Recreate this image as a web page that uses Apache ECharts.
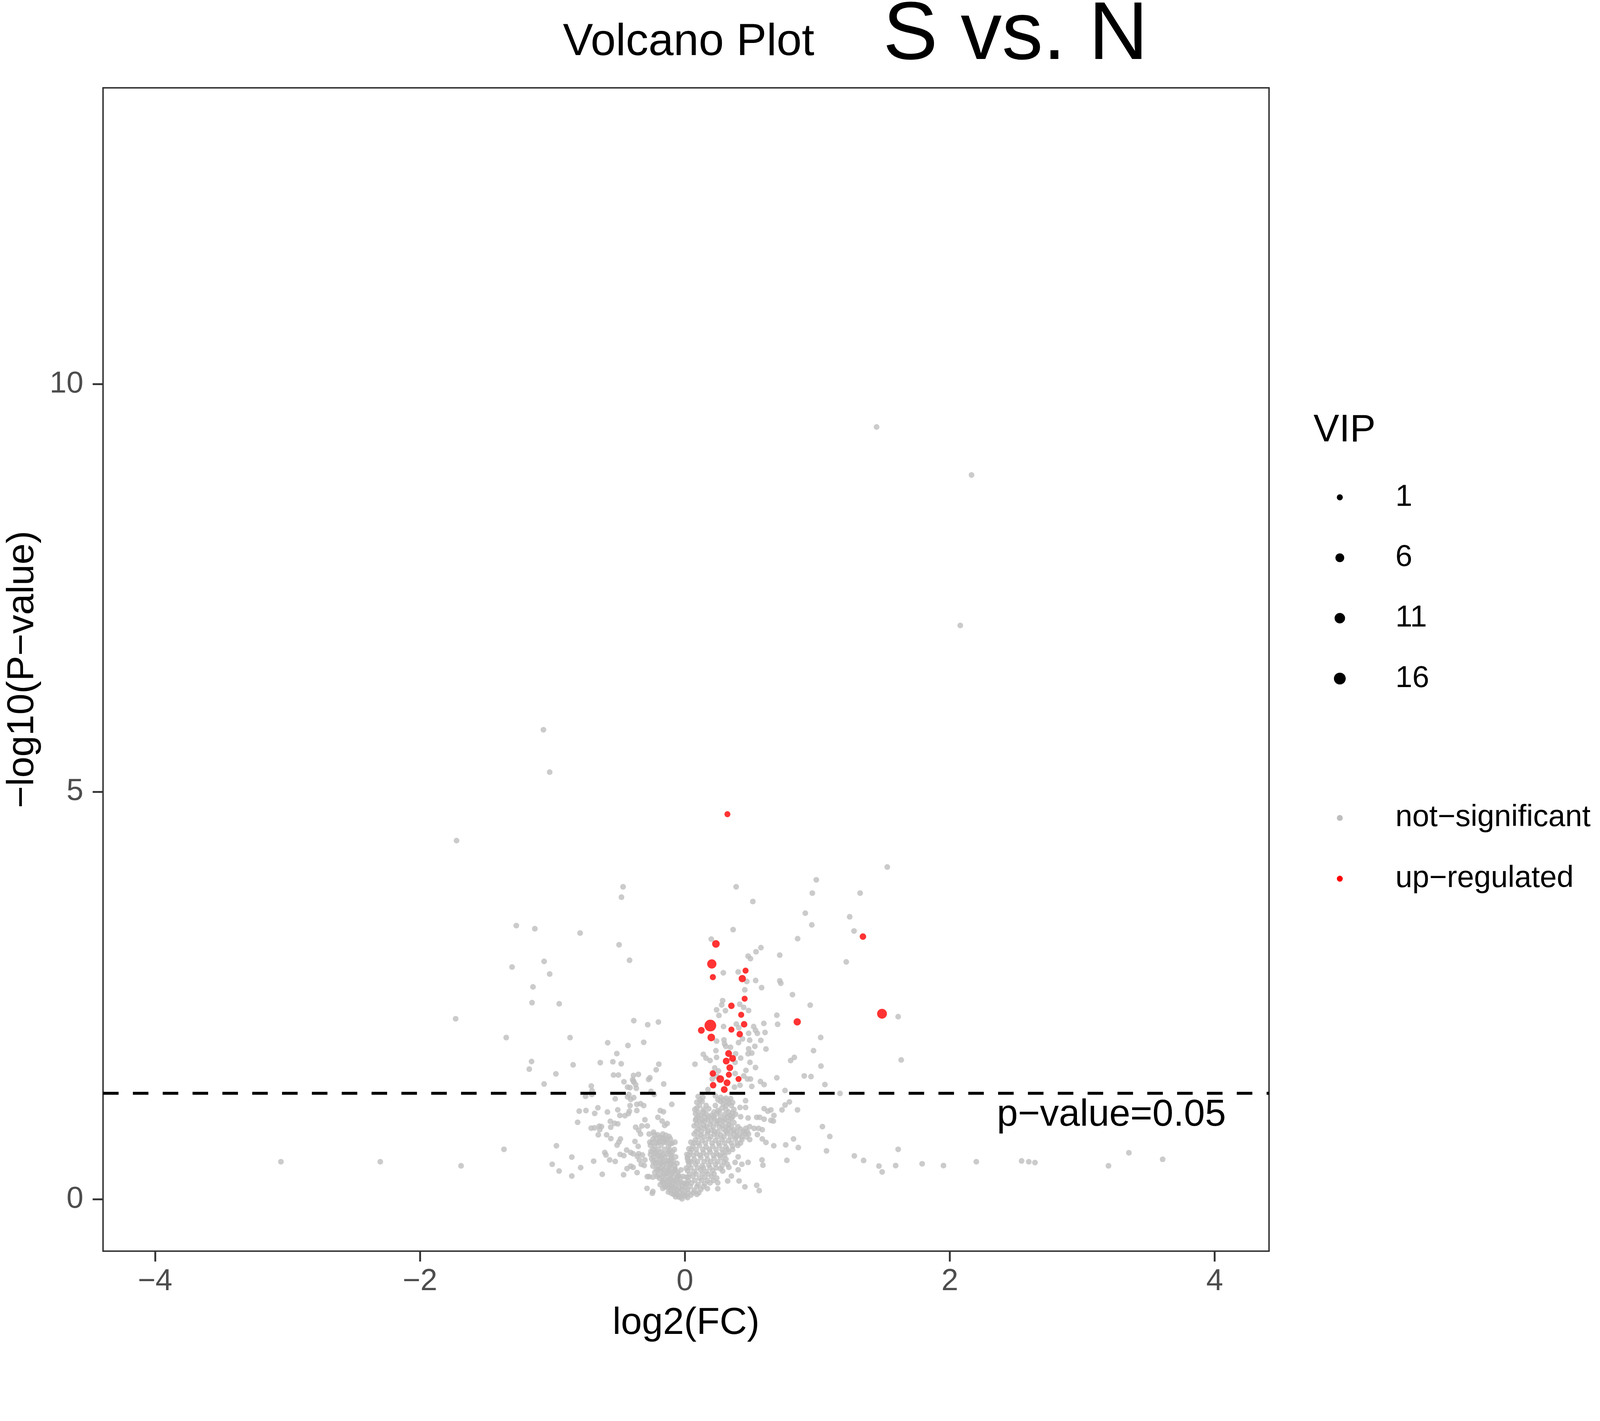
<!DOCTYPE html>
<html>
<head>
<meta charset="utf-8">
<title>Volcano Plot S vs. N</title>
<script src="https://cdn.jsdelivr.net/npm/echarts@6/dist/echarts.min.js"></script>
<style>
    html, body { margin: 0; padding: 0; background: #fff; overflow: hidden; }
    #chart { width: 100vw; height: 100vh; }
</style>
</head>
<body>
<div id="chart"></div>
<script>
var FONT = '"Liberation Sans", Arial, Helvetica, sans-serif';

// axis ticks and cut-off
var xTicks = [-4, -2, 0, 2, 4];
var yTicks = [0, 5, 10];
var pCut = 0.05;
var pLabel = 'p\u2212value=0.05';
var pLabelPos = [3.22, 1.03];
var vipBreaks = [1, 6, 11, 16];
var groups = ['not\u2212significant', 'up\u2212regulated'];
var groupColors = ['#BEBEBE', '#FF0000'];

// not significant metabolites [log2FC, -log10 p]
var notSig = [
    // far / upper points
    [1.447, 9.475], [2.164, 8.886], [2.079, 7.04], [-1.068, 5.76], [-1.021, 5.24], [-1.724, 4.40],
    [-3.05, 0.46], [-2.3, 0.46], [-1.69, 0.41], [-1.731, 2.214],
    [2.2, 0.46], [2.542, 0.47], [2.596, 0.46], [2.643, 0.45], [3.198, 0.41], [3.352, 0.57], [3.607, 0.49],
    // upper middle
    [1.528, 4.076], [0.992, 3.919], [-0.467, 3.833], [0.387, 3.833], [0.962, 3.756], [1.323, 3.756],
    [-0.479, 3.706], [0.513, 3.653], [0.909, 3.51], [1.244, 3.465], [-1.273, 3.357], [-1.133, 3.319],
    [0.364, 3.308], [0.958, 3.366], [-0.791, 3.266], [1.277, 3.291], [0.199, 3.191], [0.851, 3.197],
    [-0.497, 3.122], [0.574, 3.087], [-1.063, 2.918], [-0.418, 2.932], [-1.305, 2.849], [-1.021, 2.763],
    [-1.147, 2.605], [-1.154, 2.412], [-0.949, 2.398], [1.61, 2.24], [-0.386, 2.191], [-0.2, 2.174],
    [-0.281, 2.141], [-1.349, 1.983], [-0.867, 1.983], [-0.583, 1.92], [-0.43, 1.886], [-0.311, 1.925],
    [-0.514, 1.787], [-1.158, 1.69], [-0.844, 1.649], [-0.639, 1.676], [-0.544, 1.687], [-0.481, 1.662],
    [-0.197, 1.657], [1.633, 1.709], [-1.175, 1.596], [-0.217, 1.588], [-0.974, 1.538], [-0.539, 1.524],
    [-0.502, 1.524], [-0.388, 1.519], [-0.351, 1.532], [-0.264, 1.491], [-1.063, 1.414], [-0.46, 1.441],
    [-0.388, 1.45], [-0.16, 1.414], [-0.707, 1.389],
    [-0.274, 1.47], [-0.395, 1.467], [-0.386, 1.437], [-0.372, 1.407], [-0.367, 1.361], [-0.433, 1.376],
    [-0.414, 1.369], [-0.701, 1.331], [-0.256, 1.323], [-0.232, 1.285],
    [-1.366, 0.612], [1.349, 0.476], [1.465, 0.407], [1.489, 0.335], [1.591, 0.413], [1.61, 0.612],
    [1.791, 0.435], [1.952, 0.413],
    // right of zero, above cut
    [0.537, 3.036], [0.477, 2.983], [0.495, 2.952], [0.716, 2.995], [1.218, 2.912], [0.29, 2.778],
    [0.402, 2.789], [0.467, 2.672], [0.534, 2.684], [0.716, 2.68], [0.724, 2.65], [0.579, 2.596],
    [0.452, 2.569], [0.812, 2.51], [0.946, 2.381], [0.285, 2.437], [0.278, 2.384], [0.414, 2.392],
    [0.444, 2.354], [0.481, 2.316], [0.239, 2.324], [0.306, 2.313], [0.257, 2.255], [0.694, 2.258],
    [0.7, 2.146], [0.596, 2.157], [0.292, 2.119], [0.388, 2.149], [0.407, 2.104], [0.519, 2.119],
    [0.533, 2.073], [0.547, 2.035], [0.605, 2.046], [0.481, 2.035], [1.025, 1.985], [0.489, 1.952],
    [0.573, 1.949], [0.239, 1.94], [0.295, 1.955], [0.299, 1.907], [0.405, 1.922], [0.435, 1.967],
    [0.344, 1.864], [0.309, 1.876], [0.528, 1.876], [0.481, 1.846], [0.612, 1.843], [0.971, 1.823],
    [0.234, 1.823], [0.139, 1.778], [0.239, 1.74], [0.159, 1.732], [0.19, 1.702], [0.076, 1.657],
    [0.383, 1.785], [0.477, 1.785], [0.505, 1.793], [0.421, 1.732], [0.379, 1.679], [0.491, 1.679],
    [0.533, 1.616], [0.798, 1.702], [0.826, 1.74], [1.027, 1.634], [0.225, 1.611], [0.253, 1.574],
    [0.379, 1.543], [0.461, 1.581], [0.444, 1.513], [0.472, 1.475], [0.495, 1.475], [0.901, 1.513],
    [0.952, 1.505], [0.694, 1.49], [0.57, 1.444], [0.598, 1.407], [0.505, 1.384], [0.416, 1.399],
    [0.374, 1.376], [1.057, 1.407], [0.174, 1.346], [0.756, 1.334], [1.171, 1.298], [0.206, 1.475],
    [0.243, 1.505],
    // left arm, below cut
    [-0.75, 1.262], [-0.703, 1.285], [-0.526, 1.232], [-0.798, 1.081], [-0.747, 1.088], [-0.681, 1.053],
    [-0.657, 1.122], [-0.585, 1.07], [-0.507, 1.097], [-0.491, 1.028], [-0.453, 1.025], [-0.427, 1.05],
    [-0.419, 1.081], [-0.363, 1.088], [-0.81, 0.944], [-0.563, 0.956], [-0.532, 0.932], [-0.507, 0.925],
    [-0.56, 0.884], [-0.708, 0.872], [-0.683, 0.876], [-0.647, 0.896], [-0.63, 0.891], [-0.643, 0.853],
    [-0.654, 0.79], [-0.591, 0.79], [-0.559, 0.744], [-0.487, 0.74], [-0.498, 0.702], [-0.512, 0.664],
    [-0.97, 0.656], [-0.854, 0.517], [-1.002, 0.429], [-0.95, 0.346], [-0.854, 0.285], [-0.787, 0.388],
    [-0.689, 0.467], [-0.624, 0.306], [-0.605, 0.573], [-0.596, 0.543], [-0.568, 0.482], [-0.526, 0.464],
    [-0.463, 0.3], [-0.44, 0.603], [-0.409, 0.573], [-0.391, 0.558], [-0.489, 0.55], [-0.461, 0.535],
    [-0.437, 0.376], [-0.409, 0.406], [-0.391, 0.391], [-0.361, 0.327], [-0.377, 0.709], [-0.353, 0.649],
    [-0.372, 0.884], [-0.349, 0.846], [-0.335, 0.8], [-0.325, 0.899], [-0.302, 0.975], [-0.284, 0.899],
    [-0.27, 0.8], [-0.237, 0.823], [-0.363, 1.164], [-0.335, 1.172], [-0.311, 1.149], [-0.414, 1.149],
    [-0.433, 1.255], [-0.409, 1.225], [-0.386, 1.247], [-0.423, 1.285], [-0.204, 1.005], [-0.186, 1.088],
    [-0.162, 1.073], [-0.172, 0.959], [-0.153, 0.906], [-0.134, 0.929], [-0.099, 1.164], [-0.349, 0.558],
    [-0.321, 0.543], [-0.302, 0.482], [-0.344, 0.482], [-0.33, 0.429], [-0.307, 0.414], [-0.36, 0.527],
    [-0.284, 0.277], [-0.27, 0.277], [-0.242, 0.27], [-0.286, 0.133], [-0.242, 0.095], [-0.246, 0.073],
    // left core
    [-0.167, 0.8], [-0.144, 0.785], [-0.12, 0.77], [-0.19, 0.762], [-0.134, 0.725], [-0.097, 0.687],
    [-0.246, 0.694], [-0.227, 0.649], [-0.181, 0.664], [-0.125, 0.649], [-0.256, 0.588], [-0.218, 0.58],
    [-0.181, 0.573], [-0.134, 0.558], [-0.102, 0.543], [-0.251, 0.497], [-0.213, 0.482], [-0.172, 0.497],
    [-0.125, 0.467], [-0.088, 0.467], [-0.242, 0.406], [-0.199, 0.406], [-0.162, 0.421], [-0.115, 0.391],
    [-0.074, 0.376], [-0.227, 0.33], [-0.181, 0.346], [-0.139, 0.315], [-0.097, 0.315], [-0.05, 0.3],
    [-0.19, 0.255], [-0.153, 0.24], [-0.111, 0.255], [-0.074, 0.224], [-0.032, 0.209], [-0.186, 0.179],
    [-0.144, 0.164], [-0.102, 0.148], [-0.06, 0.118], [-0.022, 0.118], [-0.167, 0.133], [-0.125, 0.088],
    [-0.083, 0.058], [-0.046, 0.027], [-0.022, 0.005], [0.015, 0.194], [0.024, 0.27], [0.02, 0.512],
    [0.024, 0.467],
    [-0.23, 0.79], [-0.205, 0.79], [-0.22, 0.74], [-0.155, 0.74], [-0.11, 0.74], [-0.265, 0.70],
    [-0.2, 0.70], [-0.16, 0.70], [-0.075, 0.70], [-0.24, 0.61], [-0.2, 0.61], [-0.155, 0.61],
    [-0.115, 0.61], [-0.08, 0.61], [-0.235, 0.52], [-0.19, 0.52], [-0.15, 0.52], [-0.105, 0.52],
    [-0.07, 0.52], [-0.225, 0.44], [-0.18, 0.44], [-0.14, 0.44], [-0.1, 0.44], [-0.06, 0.44],
    [-0.205, 0.36], [-0.16, 0.36], [-0.12, 0.36], [-0.075, 0.36], [-0.03, 0.36], [-0.21, 0.28],
    [-0.17, 0.28], [-0.13, 0.28], [-0.09, 0.28], [-0.055, 0.28], [-0.015, 0.28], [-0.165, 0.2],
    [-0.125, 0.2], [-0.09, 0.2], [-0.05, 0.2], [-0.01, 0.2], [-0.125, 0.14], [-0.08, 0.14],
    [-0.04, 0.14], [0.0, 0.14], [-0.1, 0.07], [-0.065, 0.07], [-0.005, 0.07], [-0.07, 0.03],
    [-0.03, 0.03],
    [-0.26, 0.66], [-0.24, 0.74], [-0.215, 0.69], [-0.19, 0.71], [-0.17, 0.75], [-0.145, 0.7],
    [-0.11, 0.68], [-0.26, 0.55], [-0.225, 0.56], [-0.2, 0.54], [-0.165, 0.55], [-0.12, 0.58],
    [-0.095, 0.58], [-0.24, 0.46], [-0.205, 0.45], [-0.17, 0.46], [-0.135, 0.47], [-0.105, 0.49],
    [-0.08, 0.41], [-0.215, 0.37], [-0.185, 0.38], [-0.145, 0.38], [-0.11, 0.42], [-0.055, 0.33],
    [-0.2, 0.3], [-0.16, 0.31], [-0.12, 0.33], [-0.085, 0.34], [-0.035, 0.26], [-0.17, 0.22],
    [-0.135, 0.22], [-0.1, 0.23], [-0.06, 0.25], [-0.02, 0.16], [-0.15, 0.15], [-0.11, 0.17],
    [-0.07, 0.17], [-0.04, 0.09], [-0.11, 0.11], [-0.08, 0.1], [-0.055, 0.05], [-0.015, 0.06],
    // right arm, sparse
    [0.458, 1.209], [0.36, 1.187], [0.416, 1.126], [0.458, 1.126], [0.383, 1.043], [0.421, 1.012],
    [0.477, 0.997], [0.542, 1.005], [0.565, 1.005], [0.598, 1.111], [0.626, 1.081], [0.649, 1.096],
    [0.598, 0.982], [0.649, 0.967], [0.668, 0.959], [0.672, 1.028], [0.733, 1.096], [0.756, 1.156],
    [0.789, 1.194], [0.85, 1.096], [1.038, 0.891], [1.094, 0.77], [1.069, 0.593], [1.279, 0.532],
    [0.82, 0.74], [0.856, 0.634], [0.761, 0.667], [0.671, 0.656], [0.612, 0.697], [0.584, 0.74],
    [0.547, 0.793], [0.523, 0.869], [0.556, 0.869], [0.584, 0.853], [0.489, 0.891], [0.489, 0.732],
    [0.477, 0.452], [0.582, 0.482], [0.589, 0.418], [0.77, 0.477], [0.402, 0.52], [0.379, 0.452],
    [0.43, 0.429], [0.402, 0.361], [0.351, 0.285], [0.323, 0.224], [0.409, 0.224], [0.453, 0.152],
    [0.542, 0.171], [0.561, 0.106], [0.248, 0.202], [0.248, 0.129], [0.285, 0.346], [0.332, 0.391],
    [0.267, 0.376],
    // right core
    [0.10, 1.26], [0.135, 1.25], [0.23, 1.27], [0.27, 1.25], [0.31, 1.24], [0.345, 1.235],
    [0.09, 1.19], [0.13, 1.2], [0.27, 1.2], [0.29, 1.17], [0.33, 1.18],
    [0.09, 1.12], [0.14, 1.1], [0.18, 1.11], [0.25, 1.09], [0.28, 1.12], [0.31, 1.1], [0.37, 1.1],
    [0.08, 1.05], [0.12, 1.03], [0.16, 1.05], [0.2, 1.03], [0.24, 1.05], [0.3, 1.04], [0.34, 1.03],
    [0.085, 0.99], [0.13, 0.97], [0.17, 0.98], [0.22, 0.99], [0.26, 0.97], [0.3, 0.98], [0.35, 0.99],
    [0.09, 0.93], [0.14, 0.91], [0.19, 0.92], [0.24, 0.93], [0.28, 0.91], [0.33, 0.92], [0.37, 0.94],
    [0.1, 0.86], [0.15, 0.87], [0.2, 0.85], [0.29, 0.86], [0.33, 0.87], [0.37, 0.85], [0.42, 0.86],
    [0.46, 0.87], [0.07, 0.8], [0.12, 0.79], [0.17, 0.81], [0.22, 0.8], [0.27, 0.79], [0.32, 0.81],
    [0.37, 0.8], [0.41, 0.79], [0.45, 0.81], [0.48, 0.8], [0.08, 0.73], [0.13, 0.72], [0.18, 0.74],
    [0.23, 0.72], [0.28, 0.73], [0.33, 0.72], [0.38, 0.74], [0.43, 0.73], [0.06, 0.65], [0.11, 0.66],
    [0.16, 0.64], [0.21, 0.65], [0.26, 0.66], [0.31, 0.64], [0.36, 0.65], [0.4, 0.66], [0.04, 0.58],
    [0.09, 0.56], [0.14, 0.57], [0.19, 0.58], [0.24, 0.56], [0.29, 0.57], [0.33, 0.58], [0.02, 0.5],
    [0.07, 0.49], [0.12, 0.51], [0.17, 0.49], [0.22, 0.5], [0.27, 0.51], [0.31, 0.49], [0.03, 0.42],
    [0.08, 0.43], [0.13, 0.41], [0.18, 0.42], [0.23, 0.43], [0.28, 0.41], [0.32, 0.43], [0.02, 0.35],
    [0.07, 0.34], [0.12, 0.36], [0.16, 0.34], [0.21, 0.35], [0.01, 0.27], [0.06, 0.28], [0.11, 0.26],
    [0.15, 0.27], [0.2, 0.28], [0.24, 0.26], [0.006, 0.19], [0.05, 0.2], [0.1, 0.18], [0.15, 0.19],
    [0.19, 0.2], [0.02, 0.12], [0.07, 0.11], [0.12, 0.12], [0.17, 0.13], [0.006, 0.04], [0.045, 0.05],
    [0.09, 0.06],
    [0.115, 1.22], [0.25, 1.22], [0.29, 1.22], [0.325, 1.21], [0.11, 1.15], [0.16, 1.15],
    [0.23, 1.15], [0.31, 1.15], [0.35, 1.15], [0.1, 1.07], [0.14, 1.07], [0.22, 1.07],
    [0.26, 1.07], [0.33, 1.07], [0.36, 1.06], [0.1, 1.01], [0.145, 1.01], [0.18, 1.01],
    [0.22, 1.01], [0.27, 1.01], [0.32, 1.01], [0.36, 1.01], [0.11, 0.955], [0.15, 0.955],
    [0.2, 0.955], [0.245, 0.955], [0.29, 0.955], [0.33, 0.955], [0.115, 0.89], [0.165, 0.89],
    [0.215, 0.89], [0.26, 0.89], [0.31, 0.89], [0.35, 0.89], [0.4, 0.89], [0.085, 0.83],
    [0.125, 0.83], [0.175, 0.83], [0.225, 0.83], [0.25, 0.83], [0.31, 0.83], [0.35, 0.83],
    [0.39, 0.83], [0.44, 0.83], [0.47, 0.83], [0.1, 0.765], [0.145, 0.765], [0.195, 0.765],
    [0.245, 0.765], [0.295, 0.765], [0.345, 0.765], [0.39, 0.765], [0.43, 0.765], [0.465, 0.765],
    [0.07, 0.69], [0.1, 0.69], [0.155, 0.69], [0.205, 0.69], [0.255, 0.69], [0.3, 0.69],
    [0.35, 0.69], [0.395, 0.69], [0.42, 0.69], [0.05, 0.61], [0.085, 0.61], [0.135, 0.61],
    [0.185, 0.61], [0.235, 0.61], [0.28, 0.61], [0.32, 0.61], [0.36, 0.61], [0.03, 0.54],
    [0.065, 0.54], [0.115, 0.54], [0.165, 0.54], [0.215, 0.54], [0.26, 0.54], [0.3, 0.54],
    [0.045, 0.46], [0.095, 0.46], [0.145, 0.46], [0.195, 0.46], [0.25, 0.46], [0.295, 0.46],
    [0.045, 0.385], [0.095, 0.385], [0.14, 0.385], [0.19, 0.385], [0.235, 0.385], [0.035, 0.31],
    [0.085, 0.31], [0.13, 0.31], [0.175, 0.31], [0.22, 0.31], [0.025, 0.23], [0.075, 0.23],
    [0.125, 0.23], [0.17, 0.23], [0.215, 0.23], [0.04, 0.155], [0.09, 0.155], [0.14, 0.155],
    [0.025, 0.08], [0.065, 0.08], [0.105, 0.08], [0.02, 0.02],
    [0.03, 0.62], [0.045, 0.7], [0.015, 0.55], [0.01, 0.38], [0.03, 0.46], [0.07, 0.9],
    [0.075, 1.1], [0.08, 0.97]
];

// up-regulated metabolites [log2FC, -log10 p, VIP]
var upReg = [
    [0.203, 2.887, 7.3], [0.211, 2.725, 1.1], [0.458, 2.805, 1.1], [0.433, 2.707, 2.8],
    [0.451, 2.46, 1.0], [0.351, 2.373, 1.6], [0.425, 2.263, 1.1], [0.447, 2.146, 1.6],
    [0.192, 2.131, 15.7], [0.124, 2.073, 2.1], [0.199, 1.985, 3.5], [0.351, 2.081, 1.1],
    [0.414, 2.025, 1.6], [0.848, 2.176, 2.8], [0.33, 1.788, 2.1], [0.36, 1.728, 2.1],
    [0.312, 1.695, 2.1], [0.339, 1.614, 2.1], [0.211, 1.543, 1.6], [0.332, 1.528, 1.1],
    [0.267, 1.475, 3.5], [0.318, 1.429, 2.1], [0.405, 1.475, 1.1], [0.213, 1.399, 1.6],
    [0.297, 1.346, 2.1], [0.321, 4.724, 1.0], [1.344, 3.222, 1.6], [1.488, 2.276, 9.0],
    [0.234, 3.133, 3.5]
];

var chartDom = document.getElementById('chart');
var myChart = echarts.init(chartDom);

// the layout below is measured on a 4317 x 3638 picture; scale it to the real viewport
var S = Math.min(chartDom.clientWidth / 4317, chartDom.clientHeight / 3638);

function px(v) {
    return v * S;
}

function vipSize(vip) {
    return px(11 + 5.2 * Math.sqrt(vip));
}

function withMinus(value) {
    return value < 0 ? '\u2212' + Math.abs(value) : String(value);
}

function legendText(text, y) {
    return {
        type: 'text',
        x: px(3765),
        y: y,
        style: {
            text: text, fontSize: px(82), fontFamily: FONT, fill: '#000',
            textAlign: 'left', textVerticalAlign: 'middle'
        }
    };
}

// size legend (VIP) and colour legend, laid out like ggplot's guides
var legendItems = [{
    type: 'text',
    x: px(3544),
    y: px(1162),
    style: {
        text: 'VIP', fontSize: px(104), fontFamily: FONT, fill: '#000',
        textAlign: 'left', textVerticalAlign: 'middle'
    }
}];
vipBreaks.forEach(function (v, i) {
    var cy = px(1342 + i * 163);
    legendItems.push({
        type: 'circle',
        shape: {cx: px(3615), cy: cy, r: vipSize(v) / 2},
        style: {fill: '#000'}
    });
    legendItems.push(legendText(String(v), cy));
});
groups.forEach(function (g, i) {
    var cy = px(2207 + i * 164);
    legendItems.push({
        type: 'circle',
        shape: {cx: px(3615), cy: cy, r: px(8)},
        style: {fill: groupColors[i]}
    });
    legendItems.push(legendText(g, cy));
});

var titles = [
    {
        type: 'text', x: px(1858), y: px(115),
        style: {
            text: 'Volcano Plot', fontSize: px(122), fontFamily: FONT, fill: '#000',
            textAlign: 'center', textVerticalAlign: 'middle'
        }
    },
    {
        type: 'text', x: px(2740), y: px(98),
        style: {
            text: 'S vs. N', fontSize: px(222), fontFamily: FONT, fill: '#000',
            textAlign: 'center', textVerticalAlign: 'middle'
        }
    }
];

var option = {
    animation: false,
    backgroundColor: '#fff',
    textStyle: {fontFamily: FONT},
    grid: {
        left: px(278),
        right: chartDom.clientWidth - px(3424),
        top: px(237),
        bottom: chartDom.clientHeight - px(3376),
        show: true,
        borderColor: '#333333',
        borderWidth: px(4),
        backgroundColor: 'transparent',
        outerBoundsMode: 'none'
    },
    xAxis: {
        type: 'value',
        min: -4.393,
        max: 4.41,
        name: 'log2(FC)',
        nameLocation: 'middle',
        nameGap: px(144),
        nameTextStyle: {fontSize: px(102), color: '#000', fontFamily: FONT},
        splitLine: {show: false},
        axisLine: {show: false, onZero: false},
        axisTick: {
            show: true, length: px(28), customValues: xTicks,
            lineStyle: {color: '#333333', width: px(5)}
        },
        axisLabel: {
            customValues: xTicks, margin: px(41), fontSize: px(82), color: '#4D4D4D',
            fontFamily: FONT, formatter: withMinus
        }
    },
    yAxis: {
        type: 'value',
        min: -0.637,
        max: 13.636,
        name: '\u2212log10(P\u2212value)',
        nameLocation: 'middle',
        nameGap: px(165),
        nameRotate: 90,
        nameTextStyle: {fontSize: px(102), color: '#000', fontFamily: FONT},
        splitLine: {show: false},
        axisLine: {show: false, onZero: false},
        axisTick: {
            show: true, length: px(28), customValues: yTicks,
            lineStyle: {color: '#333333', width: px(5)}
        },
        axisLabel: {
            customValues: yTicks, margin: px(53), fontSize: px(82), color: '#4D4D4D',
            fontFamily: FONT, formatter: withMinus
        }
    },
    graphic: titles.concat(legendItems),
    series: [
        {
            name: groups[0],
            type: 'scatter',
            data: notSig,
            symbol: 'circle',
            symbolSize: px(15.5),
            itemStyle: {color: groupColors[0]},
            z: 2
        },
        {
            name: groups[1],
            type: 'scatter',
            data: upReg,
            symbol: 'circle',
            symbolSize: function (d) { return vipSize(d[2]); },
            itemStyle: {color: groupColors[1]},
            z: 4,
            markLine: {
                silent: true,
                symbol: 'none',
                label: {show: false},
                lineStyle: {color: '#000', type: [px(42), px(38.5)], width: px(8)},
                data: [{yAxis: -Math.log10(pCut)}]
            },
            markPoint: {
                silent: true,
                symbol: 'circle',
                symbolSize: 1,
                itemStyle: {color: 'rgba(0,0,0,0)'},
                label: {
                    show: true, position: 'inside', formatter: pLabel,
                    fontSize: px(102), color: '#000', fontFamily: FONT
                },
                data: [{coord: pLabelPos}]
            }
        }
    ]
};

myChart.setOption(option);
</script>
</body>
</html>
